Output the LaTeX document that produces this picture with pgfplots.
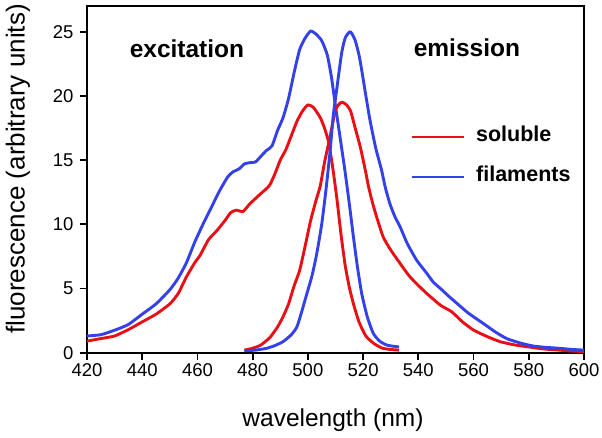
\documentclass[border=0pt]{standalone}
\usepackage{fontspec}
\setmainfont{Liberation Sans}
\usepackage{pgfplots}
\pgfplotsset{compat=1.18}
\definecolor{cred}{RGB}{232,16,20}
\definecolor{cblue}{RGB}{52,64,232}
\begin{document}
\begin{tikzpicture}
\path[use as bounding box] (-87pt,-85.3pt) rectangle (515pt,352.7pt);
\begin{axis}[at={(0,0)}, anchor=south west, scale only axis,
  width=497pt, height=346.7pt,
  xmin=420, xmax=600, ymin=0, ymax=27,
  xtick={420,440,...,600}, ytick={0,5,...,25},
  xtick pos=bottom, ytick pos=left,
  tick align=outside, major tick length=7pt,
  axis line style={line width=2pt},
  every tick/.style={black, line width=1.8pt},
  /pgf/number format/assume math mode=true,
  /pgf/number format/1000 sep={},
  ticklabel style={font=\fontsize{18.5}{20}\selectfont},
  yticklabel style={xshift=-3pt},
  xlabel={wavelength (nm)},
  ylabel={fluorescence (arbitrary units)},
  xlabel style={font=\fontsize{24.5}{28}\selectfont, at={(axis description cs:0.495,-0.194)}, anchor=center},
  ylabel style={font=\fontsize{26}{28}\selectfont, at={(axis description cs:-0.139,0.53)}, anchor=center},
  legend style={at={(axis description cs:0.65,0.5645)}, anchor=west, draw=none, fill=none,
    font=\fontsize{21.5}{24}\selectfont\bfseries, inner sep=0pt, row sep=20pt,
    nodes={inner sep=0pt, text height=15pt, text depth=5pt},
    /tikz/every odd column/.append style={column sep=11pt}},
  legend cell align=left,
  legend image code/.code={\draw[#1] (0pt,0pt) -- (52pt,0pt);},
  every axis plot/.append style={line width=2.9pt, line join=round, smooth, tension=0.35},
]
% excitation soluble
\addplot[cred, no markers] coordinates {
(420,0.9)(425,1.1)(430,1.3)(435,1.8)(440,2.4)(445,3.0)(450,3.8)(453,4.6)(456,5.9)(459,7.0)(461,7.6)(464,8.8)(467,9.5)(470,10.3)(472,10.9)(474,11.1)(476.5,11.0)(479,11.6)(482.5,12.3)(486,13.0)(488,13.9)(490,15.0)(492,15.8)(494,16.9)(496,18.0)(498,18.8)(500,19.3)(502,19.1)(504.5,18.3)(506,17.5)(507.5,16.4)(509,14.4)(510.5,12.0)(512,9.2)(513.5,6.8)(515,5.1)(516.5,3.8)(518.5,2.4)(521,1.3)(524,0.7)(527,0.35)(530,0.25)(533,0.2)
};
\addlegendentry{soluble}
% excitation filaments
\addplot[cblue, no markers] coordinates {
(420,1.3)(425,1.4)(430,1.75)(435,2.2)(440,3.0)(445,3.8)(450,4.9)(453,5.8)(456,7.0)(459,8.6)(462,10.0)(465,11.3)(468,12.6)(471,13.7)(473,14.1)(475,14.3)(477,14.7)(479,14.8)(481,14.85)(483,15.3)(485,15.75)(487,16.1)(489,17.3)(491,18.3)(493,19.8)(495,21.8)(497,23.6)(499,24.5)(501,25.05)(503,24.8)(505,24.3)(507,23.2)(508.5,21.5)(510,19.2)(511.5,17.0)(513.4,14.2)(515,11.6)(516.5,9.0)(518,6.6)(519.5,4.6)(521.5,2.8)(523.7,1.5)(526,0.9)(528.5,0.6)(531,0.5)(533,0.45)
};
\addlegendentry{filaments}
% emission soluble
\addplot[cred, no markers, forget plot] coordinates {
(477,0.2)(480,0.35)(483,0.6)(486.3,1.2)(489,2.0)(491,2.8)(493,3.8)(495,5.2)(497,6.4)(499,8.3)(501,10.3)(503,11.9)(504.5,13.0)(506,14.8)(508,16.8)(510,18.9)(511.5,19.4)(512.5,19.5)(514,19.3)(515.5,18.8)(517,17.6)(519,16.0)(521,14.0)(522,12.9)(523.5,11.6)(525,10.5)(527.3,9.0)(530,8.0)(533.4,6.95)(537,5.9)(542.4,4.74)(548,3.7)(552,3.2)(556,2.4)(560,1.76)(565,1.25)(569.6,0.86)(575,0.6)(579.3,0.47)(585,0.3)(591,0.2)(596,0.12)(600,0.1)
};
% emission filaments
\addplot[cblue, no markers, forget plot] coordinates {
(477,0.15)(481,0.2)(485,0.34)(488,0.55)(491,0.86)(494,1.4)(496,2.0)(497.5,3.0)(499.5,4.5)(501.5,6.0)(503.2,7.7)(505,10.0)(506.5,12.6)(508,15.6)(509.2,18.5)(510.5,20.6)(512.2,23.3)(513.5,24.5)(515.3,25.0)(517,24.4)(518.5,23.2)(519.5,22.0)(521,20.0)(522.5,18.1)(524.5,16.0)(526.7,14.2)(528,12.9)(529.7,11.6)(531.5,10.6)(533.4,9.8)(536,8.5)(539.4,7.2)(543,6.2)(545.4,5.5)(548,5.0)(551,4.4)(554,3.84)(558,3.1)(563.5,2.28)(568,1.6)(572,1.1)(577,0.75)(581.6,0.52)(586,0.42)(591.3,0.34)(596,0.25)(600,0.2)
};
\node[font=\fontsize{24.5}{28}\selectfont\bfseries] at (axis cs:456.2,23.7) {excitation};
\node[font=\fontsize{24.5}{28}\selectfont\bfseries] at (axis cs:557.6,23.75) {emission};
\end{axis}
\end{tikzpicture}
\end{document}
